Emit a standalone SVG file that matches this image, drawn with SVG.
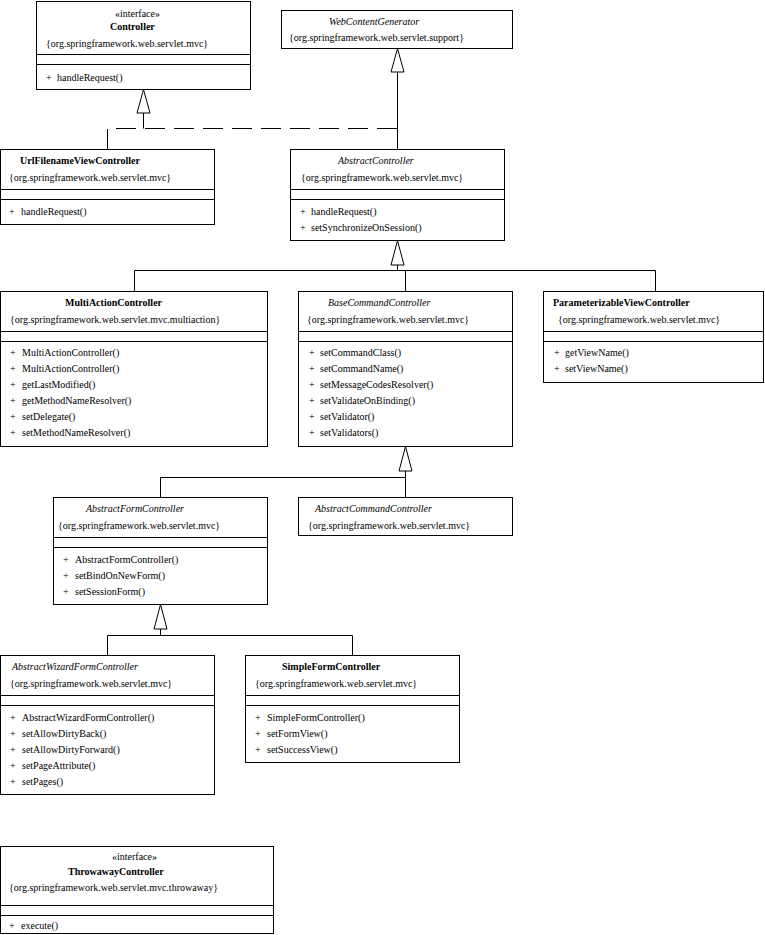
<svg xmlns="http://www.w3.org/2000/svg" width="765" height="935" viewBox="0 0 765 935">
<style>
.box{fill:#fff;stroke:#000;stroke-width:1}
.sep{stroke:#000;stroke-width:1;fill:none}
.ln{stroke:#000;stroke-width:1;fill:none}
.dash{stroke:#000;stroke-width:1;fill:none;stroke-dasharray:20 9}
.tri{fill:#fff;stroke:#000;stroke-width:1}
text{font-family:"Liberation Serif","Times New Roman",serif;font-size:10px;fill:#000}
.b{font-weight:bold}
.i{font-style:italic}
</style>
<rect width="765" height="935" fill="#fff"/>
<g id="connectors">
<path class="dash" d="M143.5,113 V128.5"/>
<path class="dash" d="M397,128.5 H107.5 V149"/>
<path class="ln" d="M397.5,72 V149"/>
<polygon class="tri" points="397.5,48.5 391,72 404,72"/>
<polygon class="tri" points="143.5,89.5 137,113 150,113"/>
<path class="ln" d="M397.5,265 V270.5 M134.5,291 V270.5 H655.5 V291 M405.5,270.5 V291"/>
<polygon class="tri" points="397.5,240.5 391,265 404,265"/>
<path class="ln" d="M405.5,471 V477.5 M160.5,497 V477.5 H405.5 V497"/>
<polygon class="tri" points="405.5,446.5 399,471 412,471"/>
<path class="ln" d="M160.5,629 V635.5 M107.5,655 V635.5 H352.5 V655"/>
<polygon class="tri" points="160.5,604.5 154,629 167,629"/>
</g>
<g id="Controller">
<rect class="box" x="36.5" y="1.5" width="214" height="88"/>
<path class="sep" d="M36.5,54.5 H250.5 M36.5,64.5 H250.5"/>
<text x="115" y="16.5">«interface»</text>
<text class="b" x="110" y="30">Controller</text>
<text x="46" y="46.5">{org.springframework.web.servlet.mvc}</text>
<text x="46" y="80.5">+</text><text x="57" y="80.5">handleRequest()</text>
</g>
<g id="WebContentGenerator">
<rect class="box" x="281.5" y="10.5" width="231" height="38"/>
<text class="i" x="329" y="25">WebContentGenerator</text>
<text x="289" y="41">{org.springframework.web.servlet.support}</text>
</g>
<g id="UrlFilenameViewController">
<rect class="box" x="0.5" y="149.5" width="214" height="75"/>
<path class="sep" d="M0.5,189.5 H214.5 M0.5,199.5 H214.5"/>
<text class="b" x="20" y="164">UrlFilenameViewController</text>
<text x="9" y="181">{org.springframework.web.servlet.mvc}</text>
<text x="9" y="215">+</text><text x="21" y="215">handleRequest()</text>
</g>
<g id="AbstractController">
<rect class="box" x="290.5" y="149.5" width="214" height="91"/>
<path class="sep" d="M290.5,189.5 H504.5 M290.5,199.5 H504.5"/>
<text class="i" x="338" y="164">AbstractController</text>
<text x="301" y="181">{org.springframework.web.servlet.mvc}</text>
<text x="300" y="215">+</text><text x="311" y="215">handleRequest()</text>
<text x="300" y="231">+</text><text x="311" y="231">setSynchronizeOnSession()</text>
</g>
<g id="MultiActionController">
<rect class="box" x="0.5" y="291.5" width="267" height="155"/>
<path class="sep" d="M0.5,331.5 H267.5 M0.5,341.5 H267.5"/>
<text class="b" x="65" y="306">MultiActionController</text>
<text x="10" y="323">{org.springframework.web.servlet.mvc.multiaction}</text>
<text x="10" y="356">+</text><text x="22" y="356">MultiActionController()</text>
<text x="10" y="372">+</text><text x="22" y="372">MultiActionController()</text>
<text x="10" y="388">+</text><text x="22" y="388">getLastModified()</text>
<text x="10" y="404">+</text><text x="22" y="404">getMethodNameResolver()</text>
<text x="10" y="420">+</text><text x="22" y="420">setDelegate()</text>
<text x="10" y="436">+</text><text x="22" y="436">setMethodNameResolver()</text>
</g>
<g id="BaseCommandController">
<rect class="box" x="298.5" y="291.5" width="214" height="155"/>
<path class="sep" d="M298.5,331.5 H512.5 M298.5,341.5 H512.5"/>
<text class="i" x="328" y="306">BaseCommandController</text>
<text x="307" y="323">{org.springframework.web.servlet.mvc}</text>
<text x="309" y="356">+</text><text x="320" y="356">setCommandClass()</text>
<text x="309" y="372">+</text><text x="320" y="372">setCommandName()</text>
<text x="309" y="388">+</text><text x="320" y="388">setMessageCodesResolver()</text>
<text x="309" y="404">+</text><text x="320" y="404">setValidateOnBinding()</text>
<text x="309" y="420">+</text><text x="320" y="420">setValidator()</text>
<text x="309" y="436">+</text><text x="320" y="436">setValidators()</text>
</g>
<g id="ParameterizableViewController">
<rect class="box" x="543.5" y="291.5" width="220" height="91"/>
<path class="sep" d="M543.5,331.5 H763.5 M543.5,341.5 H763.5"/>
<text class="b" x="553" y="306">ParameterizableViewController</text>
<text x="558" y="323">{org.springframework.web.servlet.mvc}</text>
<text x="554" y="356">+</text><text x="565" y="356">getViewName()</text>
<text x="554" y="372">+</text><text x="565" y="372">setViewName()</text>
</g>
<g id="AbstractFormController">
<rect class="box" x="53.5" y="497.5" width="214" height="107"/>
<path class="sep" d="M53.5,537.5 H267.5 M53.5,547.5 H267.5"/>
<text class="i" x="86" y="512">AbstractFormController</text>
<text x="58" y="529">{org.springframework.web.servlet.mvc}</text>
<text x="63" y="563">+</text><text x="75" y="563">AbstractFormController()</text>
<text x="63" y="579">+</text><text x="75" y="579">setBindOnNewForm()</text>
<text x="63" y="595">+</text><text x="75" y="595">setSessionForm()</text>
</g>
<g id="AbstractCommandController">
<rect class="box" x="298.5" y="497.5" width="214" height="38"/>
<text class="i" x="315" y="512">AbstractCommandController</text>
<text x="308" y="529">{org.springframework.web.servlet.mvc}</text>
</g>
<g id="AbstractWizardFormController">
<rect class="box" x="0.5" y="655.5" width="214" height="139"/>
<path class="sep" d="M0.5,695.5 H214.5 M0.5,705.5 H214.5"/>
<text class="i" x="12" y="670">AbstractWizardFormController</text>
<text x="10" y="687">{org.springframework.web.servlet.mvc}</text>
<text x="10" y="721">+</text><text x="22" y="721">AbstractWizardFormController()</text>
<text x="10" y="737">+</text><text x="22" y="737">setAllowDirtyBack()</text>
<text x="10" y="753">+</text><text x="22" y="753">setAllowDirtyForward()</text>
<text x="10" y="769">+</text><text x="22" y="769">setPageAttribute()</text>
<text x="10" y="785">+</text><text x="22" y="785">setPages()</text>
</g>
<g id="SimpleFormController">
<rect class="box" x="245.5" y="655.5" width="214" height="107"/>
<path class="sep" d="M245.5,695.5 H459.5 M245.5,705.5 H459.5"/>
<text class="b" x="282" y="670">SimpleFormController</text>
<text x="255" y="687">{org.springframework.web.servlet.mvc}</text>
<text x="255" y="721">+</text><text x="267" y="721">SimpleFormController()</text>
<text x="255" y="737">+</text><text x="267" y="737">setFormView()</text>
<text x="255" y="753">+</text><text x="267" y="753">setSuccessView()</text>
</g>
<g id="ThrowawayController">
<rect class="box" x="0.5" y="846.5" width="273" height="87"/>
<path class="sep" d="M0.5,905.5 H273.5 M0.5,915.5 H273.5"/>
<text x="112" y="860">«interface»</text>
<text class="b" x="68" y="875">ThrowawayController</text>
<text x="9" y="891">{org.springframework.web.servlet.mvc.throwaway}</text>
<text x="9" y="928.5">+</text><text x="21" y="928.5">execute()</text>
</g>
</svg>
